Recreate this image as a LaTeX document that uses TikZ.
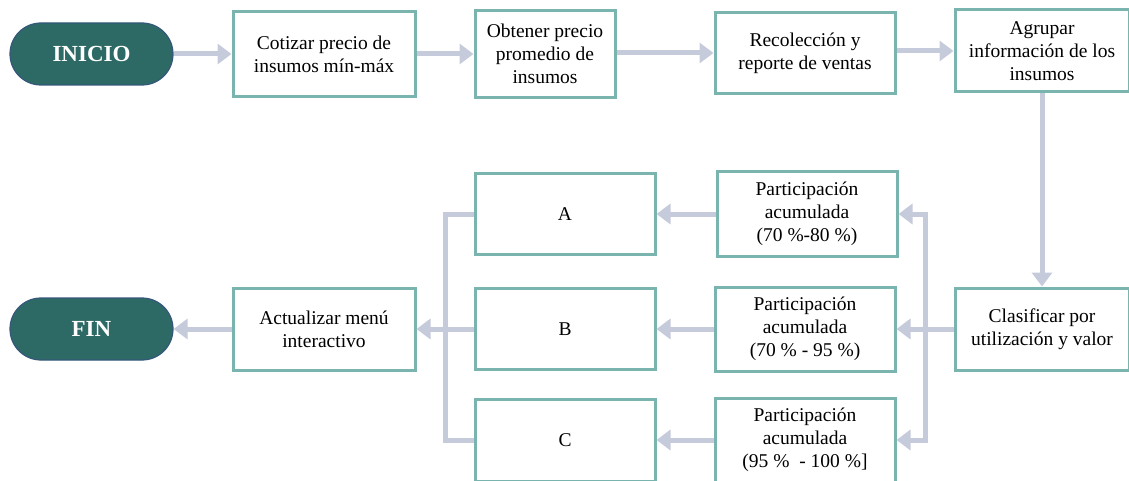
\documentclass[tikz,border=0pt]{standalone}
\usepackage{fontspec}
\setmainfont{Liberation Serif}
\usetikzlibrary{arrows.meta,positioning}

\definecolor{boxteal}{HTML}{7AB4AF}
\definecolor{pillfill}{HTML}{2E6A65}
\definecolor{pillline}{HTML}{34577A}
\definecolor{flowgray}{HTML}{C6CBDC}

\begin{document}
\begin{tikzpicture}[x=1pt, y=-1pt,
    stepbox/.style={draw=boxteal, line width=3pt, fill=white, align=center,
        inner sep=2pt, font=\fontsize{19.5}{23}\selectfont},
    pill/.style={draw=pillline, line width=1.2pt, fill=pillfill, text=white,
        rounded corners=31pt, minimum width=163pt, minimum height=62pt,
        font=\fontsize{23}{26}\selectfont\bfseries},
    conn/.style={draw=flowgray, line width=5pt},
    flow/.style={conn, -{Triangle[length=14pt,width=20pt]}}
]
    \useasboundingbox (0,0) rectangle (1129,481);

    % Top row
    \node[pill] (inicio) at (91.5,54) {INICIO};
    \node[stepbox, minimum width=182pt, minimum height=85pt] (cotizar) at (324,54)
        {Cotizar precio de\\insumos mín-máx};
    \node[stepbox, minimum width=140pt, minimum height=87pt] (obtener) at (545,54)
        {Obtener precio\\promedio de\\insumos};
    \node[stepbox, minimum width=180pt, minimum height=81pt] (recoleccion) at (805,53)
        {Recolección y\\reporte de ventas};
    \node[stepbox, minimum width=174pt, minimum height=82pt] (agrupar) at (1042,51)
        {Agrupar\\información de los\\insumos};

    % Classification column
    \node[stepbox, minimum width=174pt, minimum height=82pt] (clasificar) at (1042,329)
        {Clasificar por\\utilización y valor};
    \node[stepbox, minimum width=180pt, minimum height=85pt] (partA) at (807,214)
        {Participación\\acumulada\\(70~\%-80~\%)};
    \node[stepbox, minimum width=180pt, minimum height=84pt] (partB) at (805,329)
        {Participación\\acumulada\\(70~\% - 95~\%)};
    \node[stepbox, minimum width=180pt, minimum height=84pt] (partC) at (805,440)
        {Participación\\acumulada\\(95~\%~~- 100~\%]};

    % Letter boxes
    \node[stepbox, minimum width=180pt, minimum height=81pt] (A) at (565,214) {A};
    \node[stepbox, minimum width=180pt, minimum height=81pt] (B) at (565,329) {B};
    \node[stepbox, minimum width=180pt, minimum height=82pt] (C) at (565,440) {C};

    % Bottom row
    \node[stepbox, minimum width=182pt, minimum height=82pt] (actualizar) at (324,329)
        {Actualizar menú\\interactivo};
    \node[pill] (fin) at (91.5,329) {FIN};

    % Bus lines
    \coordinate (busR) at (925,0);
    \coordinate (busL) at (445,0);

    % Connectors
    \draw[flow] (inicio) -- (cotizar);
    \draw[flow] (cotizar) -- (obtener);
    \draw[flow] (obtener.east |- recoleccion.west) -- (recoleccion);
    \draw[flow] (recoleccion.east |- agrupar.west) -- (agrupar);
    \draw[flow] (agrupar) -- (clasificar);
    \draw[flow] (busR |- clasificar.west) |- (partA.east);
    \draw[flow] (busR |- clasificar.west) |- (partC.east);
    \draw[flow] (clasificar) -- (partB);
    \draw[flow] (partA) -- (A);
    \draw[flow] (partB) -- (B);
    \draw[flow] (partC) -- (C);
    \draw[conn] (A.west) -- (busL |- A.west) -- (busL |- C.west) -- (C.west);
    \draw[flow] (B) -- (actualizar);
    \draw[flow] (actualizar) -- (fin);
\end{tikzpicture}
\end{document}
